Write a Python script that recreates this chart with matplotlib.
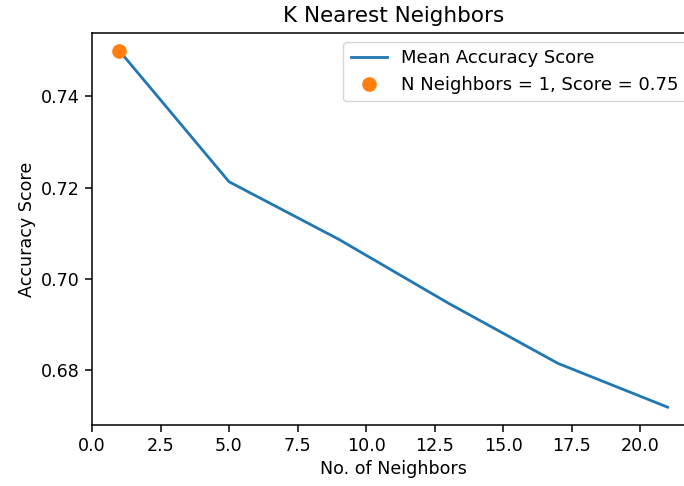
import matplotlib
matplotlib.use('Agg')
import matplotlib.pyplot as plt

n_neighbors = [1, 5, 9, 13, 17, 21]
mean_scores = [0.750, 0.7213, 0.7087, 0.6947, 0.6815, 0.6719]
best_k = 1
best_score = 0.75

fig = plt.figure(figsize=(6.84, 4.86), dpi=100)
ax = fig.add_axes([0.1345, 0.1255, 0.8816, 0.8066])

ax.plot(n_neighbors, mean_scores, color='#1f77b4', lw=2, label='Mean Accuracy Score')
ax.plot(best_k, best_score, 'o', color='#ff7f0e', ms=9.5,
        label=f'N Neighbors = {best_k}, Score = {best_score}')

ax.set_xlim(0, 22)
ax.set_xticks([0, 2.5, 5, 7.5, 10, 12.5, 15, 17.5, 20])
ax.set_yticks([0.68, 0.70, 0.72, 0.74])
ax.tick_params(labelsize=12.6, length=5, width=1.1)
for s in ax.spines.values():
    s.set_linewidth(1.1)

ax.set_title('K Nearest Neighbors', fontsize=15.5, pad=8)
ax.set_xlabel('No. of Neighbors', fontsize=12.6)
ax.set_ylabel('Accuracy Score', fontsize=12.6)
ax.legend(fontsize=13, loc='upper right')

fig.savefig('out.png', dpi=100)
